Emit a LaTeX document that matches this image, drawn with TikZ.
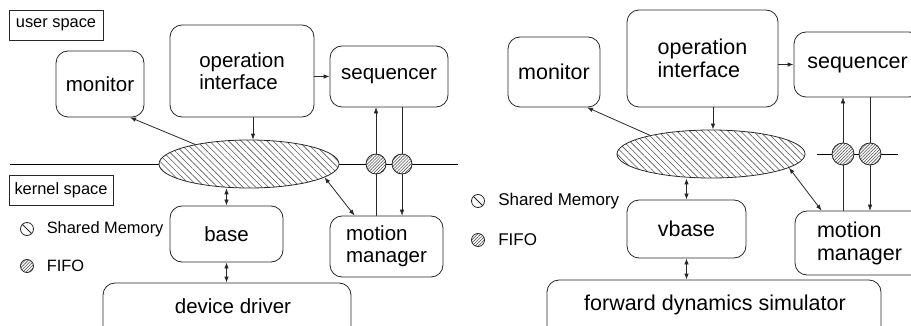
\documentclass[tikz,border=0pt]{standalone}
\usepackage{fontspec}
\setmainfont{Liberation Sans}
\usepackage{xcolor}
\usetikzlibrary{shapes.geometric, arrows.meta, positioning, calc, patterns.meta, backgrounds}
\definecolor{inkgray}{RGB}{40,40,40}
\definecolor{hatchgray}{RGB}{90,90,90}

\begin{document}
\begin{tikzpicture}[x=1pt, y=-1pt, >={Latex[length=6pt,width=4.5pt]}, line width=0.8pt, draw=inkgray]
  \tikzstyle{procbox} = [rectangle, draw=inkgray, fill=white, rounded corners=12pt, inner sep=0pt, align=left, font=\fontsize{20.5}{22}\selectfont]
  \tikzstyle{procboxB} = [procbox, font=\fontsize{21.5}{23}\selectfont]
  \tikzstyle{spacelbl} = [rectangle, draw=inkgray, inner sep=0pt, font=\fontsize{16.4}{18}\selectfont]
  \tikzstyle{shmem} = [ellipse, draw=inkgray, inner sep=0pt, preaction={fill=white}, pattern={Lines[angle=-45,distance=4.5pt,line width=0.6pt]}, pattern color=hatchgray]
  \tikzstyle{fifo} = [circle, draw=inkgray, inner sep=0pt, preaction={fill=white}, pattern={Lines[angle=45,distance=2.2pt,line width=0.6pt]}, pattern color=hatchgray]
  \tikzstyle{keyicon} = [circle, draw=inkgray, inner sep=0pt, minimum size=13pt]
  \tikzstyle{legendtxt} = [anchor=west, inner sep=0pt, font=\fontsize{16.4}{18}\selectfont]
  \tikzstyle{legendtxtB} = [legendtxt, font=\fontsize{17}{19}\selectfont]
  \tikzstyle{link} = [->, draw=inkgray]
  \tikzstyle{duplex} = [<->, draw=inkgray]

  \useasboundingbox (0,0) rectangle (911,326);
  \clip (0,0) rectangle (911,326);

  % ---- native setup ----
  \node [spacelbl, minimum width=94pt, minimum height=30pt] (userlbl) at (56,25) {user space};
  \node [spacelbl, minimum width=104pt, minimum height=30pt] (kernlbl) at (61,190) {kernel space};

  \node [procbox, minimum width=88pt, minimum height=66pt, align=center] (monitor) at (100,84) {monitor};
  \node [procbox, minimum width=144pt, minimum height=92pt] (opif) at (242,71) {operation\\interface};
  \node [procbox, minimum width=118pt, minimum height=61pt, align=center] (seq) at (389,76.5) {sequencer};
  \node [procbox, minimum width=113pt, minimum height=56pt, align=center] (base) at (226.5,234) {base};
  \node [procbox, minimum width=113pt, minimum height=61pt] (mm) at (386.5,246.5) {motion\\manager};
  \node [procbox, minimum width=248pt, minimum height=64pt, align=center, text depth=0pt] (dd) at (227,315) {};
  \node [font=\fontsize{20.5}{22}\selectfont, inner sep=0pt] (ddtxt) at (233,306) {device driver};

  \coordinate (sepL) at (10,164);
  \coordinate (sepR) at (458,164);
  \node [shmem, minimum width=180pt, minimum height=48pt] (shm) at (249,164) {};
  \node [fifo, minimum size=20pt] (fifoA) at (376,164) {};
  \node [fifo, minimum size=20pt] (fifoB) at (402,164) {};

  \begin{scope}[on background layer]
    \draw (sepL) -- (sepR);
    \draw [link] (mm.north -| fifoA) -- (seq.south -| fifoA);
    \draw [link] (seq.south -| fifoB) -- (mm.north -| fifoB);
  \end{scope}

  \draw [link] (shm.160) -- (monitor.-48);
  \draw [link] ([xshift=11pt]opif.south) -- ([xshift=4pt]shm.north);
  \draw [link] (opif.east |- seq.west) -- (seq.west);
  \draw [duplex] (shm.south -| base.north) -- (base.north);
  \draw [duplex] (base.south) -- (base.south |- dd.north);
  \draw [duplex] (shm.-10) -- ([xshift=25pt]mm.north west);

  \node [keyicon] (smkey) at (27,229) {};
  \draw (smkey.135) -- (smkey.-45);
  \node [legendtxt, right=12.5pt of smkey] (smtxt) {Shared Memory};
  \node [keyicon, fifo, minimum size=13pt] (fifokey) at (27,266) {};
  \node [legendtxt, right=12.5pt of fifokey] (fifotxt) {FIFO};

  % ---- simulated setup ----
  \node [procboxB, minimum width=92pt, minimum height=70pt, align=center] (monitorB) at (554,72) {monitor};
  \node [procboxB, minimum width=151pt, minimum height=97pt] (opifB) at (702.5,58.5) {operation\\interface};
  \node [procboxB, minimum width=127pt, minimum height=65pt, align=center] (seqB) at (857.5,64.5) {sequencer};
  \node [procboxB, minimum width=119pt, minimum height=58pt, align=center] (vbase) at (686.5,229) {vbase};
  \node [procboxB, minimum width=129pt, minimum height=64pt] (mmB) at (859.5,243) {motion\\manager};
  \node [procboxB, minimum width=334pt, minimum height=64pt] (fds) at (714,312) {};
  \node [font=\fontsize{21.5}{23}\selectfont, inner sep=0pt] (fdstxt) at (715,305) {forward dynamics simulator};

  \coordinate (segL) at (817,154);
  \coordinate (segR) at (898,154);
  \node [shmem, minimum width=188pt, minimum height=48pt] (shmB) at (711,154) {};
  \node [fifo, minimum size=22pt] (fifoC) at (843,154) {};
  \node [fifo, minimum size=22pt] (fifoD) at (870,154) {};

  \begin{scope}[on background layer]
    \draw (segL) -- (segR);
    \draw [link] (mmB.north -| fifoC) -- (seqB.south -| fifoC);
    \draw [link] (seqB.south -| fifoD) -- (mmB.north -| fifoD);
  \end{scope}

  \draw [link] (shmB.163) -- (monitorB.-47);
  \draw [link] ([xshift=10.5pt]opifB.south) -- ([xshift=2pt]shmB.north);
  \draw [link] (opifB.east |- seqB.west) -- (seqB.west);
  \draw [duplex] (shmB.south -| vbase.north) -- (vbase.north);
  \draw [duplex] (vbase.south) -- (vbase.south |- fds.north);
  \draw [duplex] (shmB.-10) -- ([xshift=27pt]mmB.north west);

  \node [keyicon] (smkeyB) at (478,201) {};
  \draw (smkeyB.135) -- (smkeyB.-45);
  \node [legendtxtB, right=13pt of smkeyB] (smtxtB) {Shared Memory};
  \node [keyicon, fifo, minimum size=13pt] (fifokeyB) at (478,240) {};
  \node [legendtxtB, right=13pt of fifokeyB] (fifotxtB) {FIFO};
\end{tikzpicture}
\end{document}
